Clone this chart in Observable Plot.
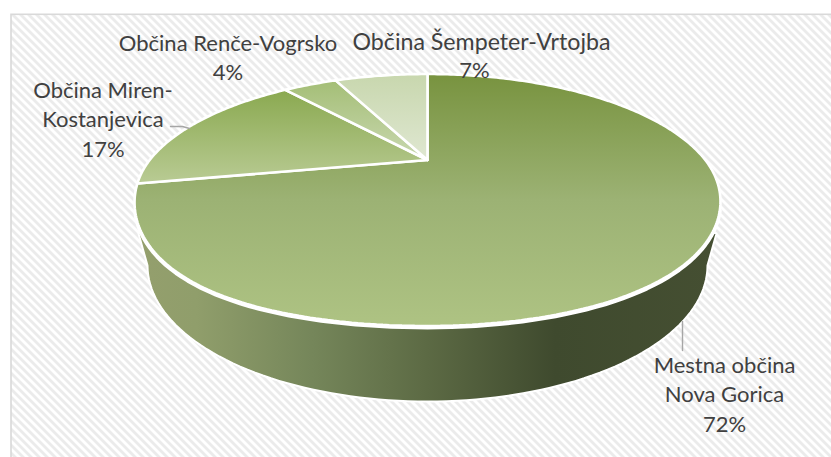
<!DOCTYPE html>
<html><head><meta charset="utf-8">
<script src="https://cdn.jsdelivr.net/npm/d3@7"></script>
<script src="https://cdn.jsdelivr.net/npm/@observablehq/plot@0.6"></script>
<style>html,body{margin:0;padding:0;background:#fff}svg{display:block}</style>
</head><body><div id="chart"></div>
<script>
const categories = ["Mestna občina Nova Gorica","Občina Miren-Kostanjevica","Občina Renče-Vogrsko","Občina Šempeter-Vrtojba"];
const shares = [72,17,4,7];
const nameLabels = ["Mestna občina\nNova Gorica\n72%","Občina Miren-\nKostanjevica\n17%","Občina Renče-Vogrsko\n4%","7%"];
const wideLabels = ["Občina Šempeter-Vrtojba"];

const W=831,H=457, K=-0.3175, RX=277.8, RY=113.3, CX=427, CY=159.5;
const px=x=>(x-CX)/RX, py=y=>(y-CY)/RY;
// perspective projection of the disc's rim; the front edge is slightly fuller than an ellipse
const rim=(t)=>{
  const a=t*2*Math.PI,u=Math.sin(a),v=-Math.cos(a),d=1+K*v;
  const s=Math.sin(2*a),bump=v>0?(u<0?7:4)*s*s/RY:0;
  return {x:u/d,y:v/d+bump};
};
let c=0;
const slices=shares.map((s,i)=>{
  const t0=c/100,t1=(c+s)/100;c+=s;
  const pts=[{x:0,y:0}];
  const n=Math.max(12,Math.ceil(s*4));
  for(let j=0;j<=n;j++)pts.push(rim(t0+(t1-t0)*j/n));
  pts.push({x:0,y:0});
  return pts;
});
// side wall: corners at the rim, then the lower edge of the extruded disc
const BA=280,BCY=265,BB=136;
const wall=[{x:px(138),y:py(233)}];
wall.push({x:0,y:0});
wall.push({x:px(716),y:py(233)});
for(let j=0;j<=90;j++){const a=(0.25+0.5*j/90)*2*Math.PI;wall.push({x:px(CX+BA*Math.sin(a)),y:py(BCY-BB*Math.cos(a))});}
wall.push(wall[0]);
// white band between the top face and the wall
const band=d3.range(0,81).map(j=>{const p=rim(0.31+0.38*j/80);return {x:p.x,y:p.y+1.6/RY};});

const fills=["url(#g0)","url(#g1)","url(#g2)","url(#g3)"];
const labelPos=[[724,351.5],[102.5,76.5],[227.5,29.5],[474,57]];
const widePos=[[481,33]];
const toLabels=(texts,pos)=>texts.map((t,i)=>({t,x:px(pos[i][0]),y:py(pos[i][1])}));
const leaders=[
 [[682,321],[682,350]],
 [[170,126],[182,126],[189,128]]
].map(l=>l.map(p=>({x:px(p[0]),y:py(p[1])})));

const plot=Plot.plot({
  width:W,height:H,margin:0,
  style:{background:"#fff"},
  x:{domain:[px(0),px(W)],range:[0,W],axis:null},
  y:{domain:[py(0),py(H)],range:[0,H],axis:null},
  marks:[
    Plot.frame({fill:"url(#hatch)",stroke:"#d9d9d9",strokeWidth:1.6,insetLeft:10.5,insetTop:13.8,insetRight:-6,insetBottom:-6}),
    Plot.line(wall,{x:"x",y:"y",fill:"url(#gw)",stroke:"#fff",strokeWidth:2,curve:"linear"}),
    Plot.line(band,{x:"x",y:"y",stroke:"#fff",strokeWidth:3.6,curve:"linear"}),
    ...slices.map((pts,i)=>Plot.line(pts,{x:"x",y:"y",fill:fills[i],stroke:"#fff",strokeWidth:2.6,strokeLinejoin:"miter",curve:"linear"})),
    ...leaders.map(l=>Plot.line(l,{x:"x",y:"y",stroke:"#a6a6a6",strokeWidth:1.4,curve:"linear"})),
    Plot.text(toLabels(nameLabels,labelPos),{x:"x",y:"y",text:"t",fontFamily:"Lato",fontSize:22,fill:"#404040",lineHeight:1.34,lineAnchor:"top",textAnchor:"middle"}),
    Plot.text(toLabels(wideLabels,widePos),{x:"x",y:"y",text:"t",fontFamily:"Lato",fontSize:23.2,fill:"#404040",lineAnchor:"top",textAnchor:"middle"})
  ]
});
const defs=d3.select(plot).insert("defs",":first-child");
const vg=(id,stops)=>{const g=defs.append("linearGradient").attr("id",id).attr("x1",0).attr("y1",0).attr("x2",0).attr("y2",1);
  stops.forEach(([o,col])=>g.append("stop").attr("offset",o).attr("stop-color",col));};
vg("g0",[[0,"#78933f"],[0.5,"#9cb274"],[1,"#aec383"]]);
vg("g1",[[0,"#8aa950"],[1,"#b9cb94"]]);
vg("g2",[[0,"#a4be76"],[1,"#c9d8b0"]]);
vg("g3",[[0,"#c8d7ae"],[1,"#dfe7d1"]]);
const gw=defs.append("linearGradient").attr("id","gw").attr("x1",0).attr("y1",0).attr("x2",1).attr("y2",0);
[[0,"#949f6d"],[0.1,"#909e6b"],[0.3,"#75865a"],[0.5,"#5c6a44"],[0.72,"#3f4a2e"],[1,"#454f32"]].forEach(([o,col])=>gw.append("stop").attr("offset",o).attr("stop-color",col));
const P=5.657;
const pat=defs.append("pattern").attr("id","hatch").attr("patternUnits","userSpaceOnUse").attr("width",P).attr("height",P).attr("patternTransform","rotate(45)");
pat.append("rect").attr("width",P).attr("height",P).attr("fill","#fff");
pat.append("rect").attr("width",P).attr("height",P/2).attr("fill","#ebebeb");
document.getElementById("chart").append(plot);
</script></body></html>
